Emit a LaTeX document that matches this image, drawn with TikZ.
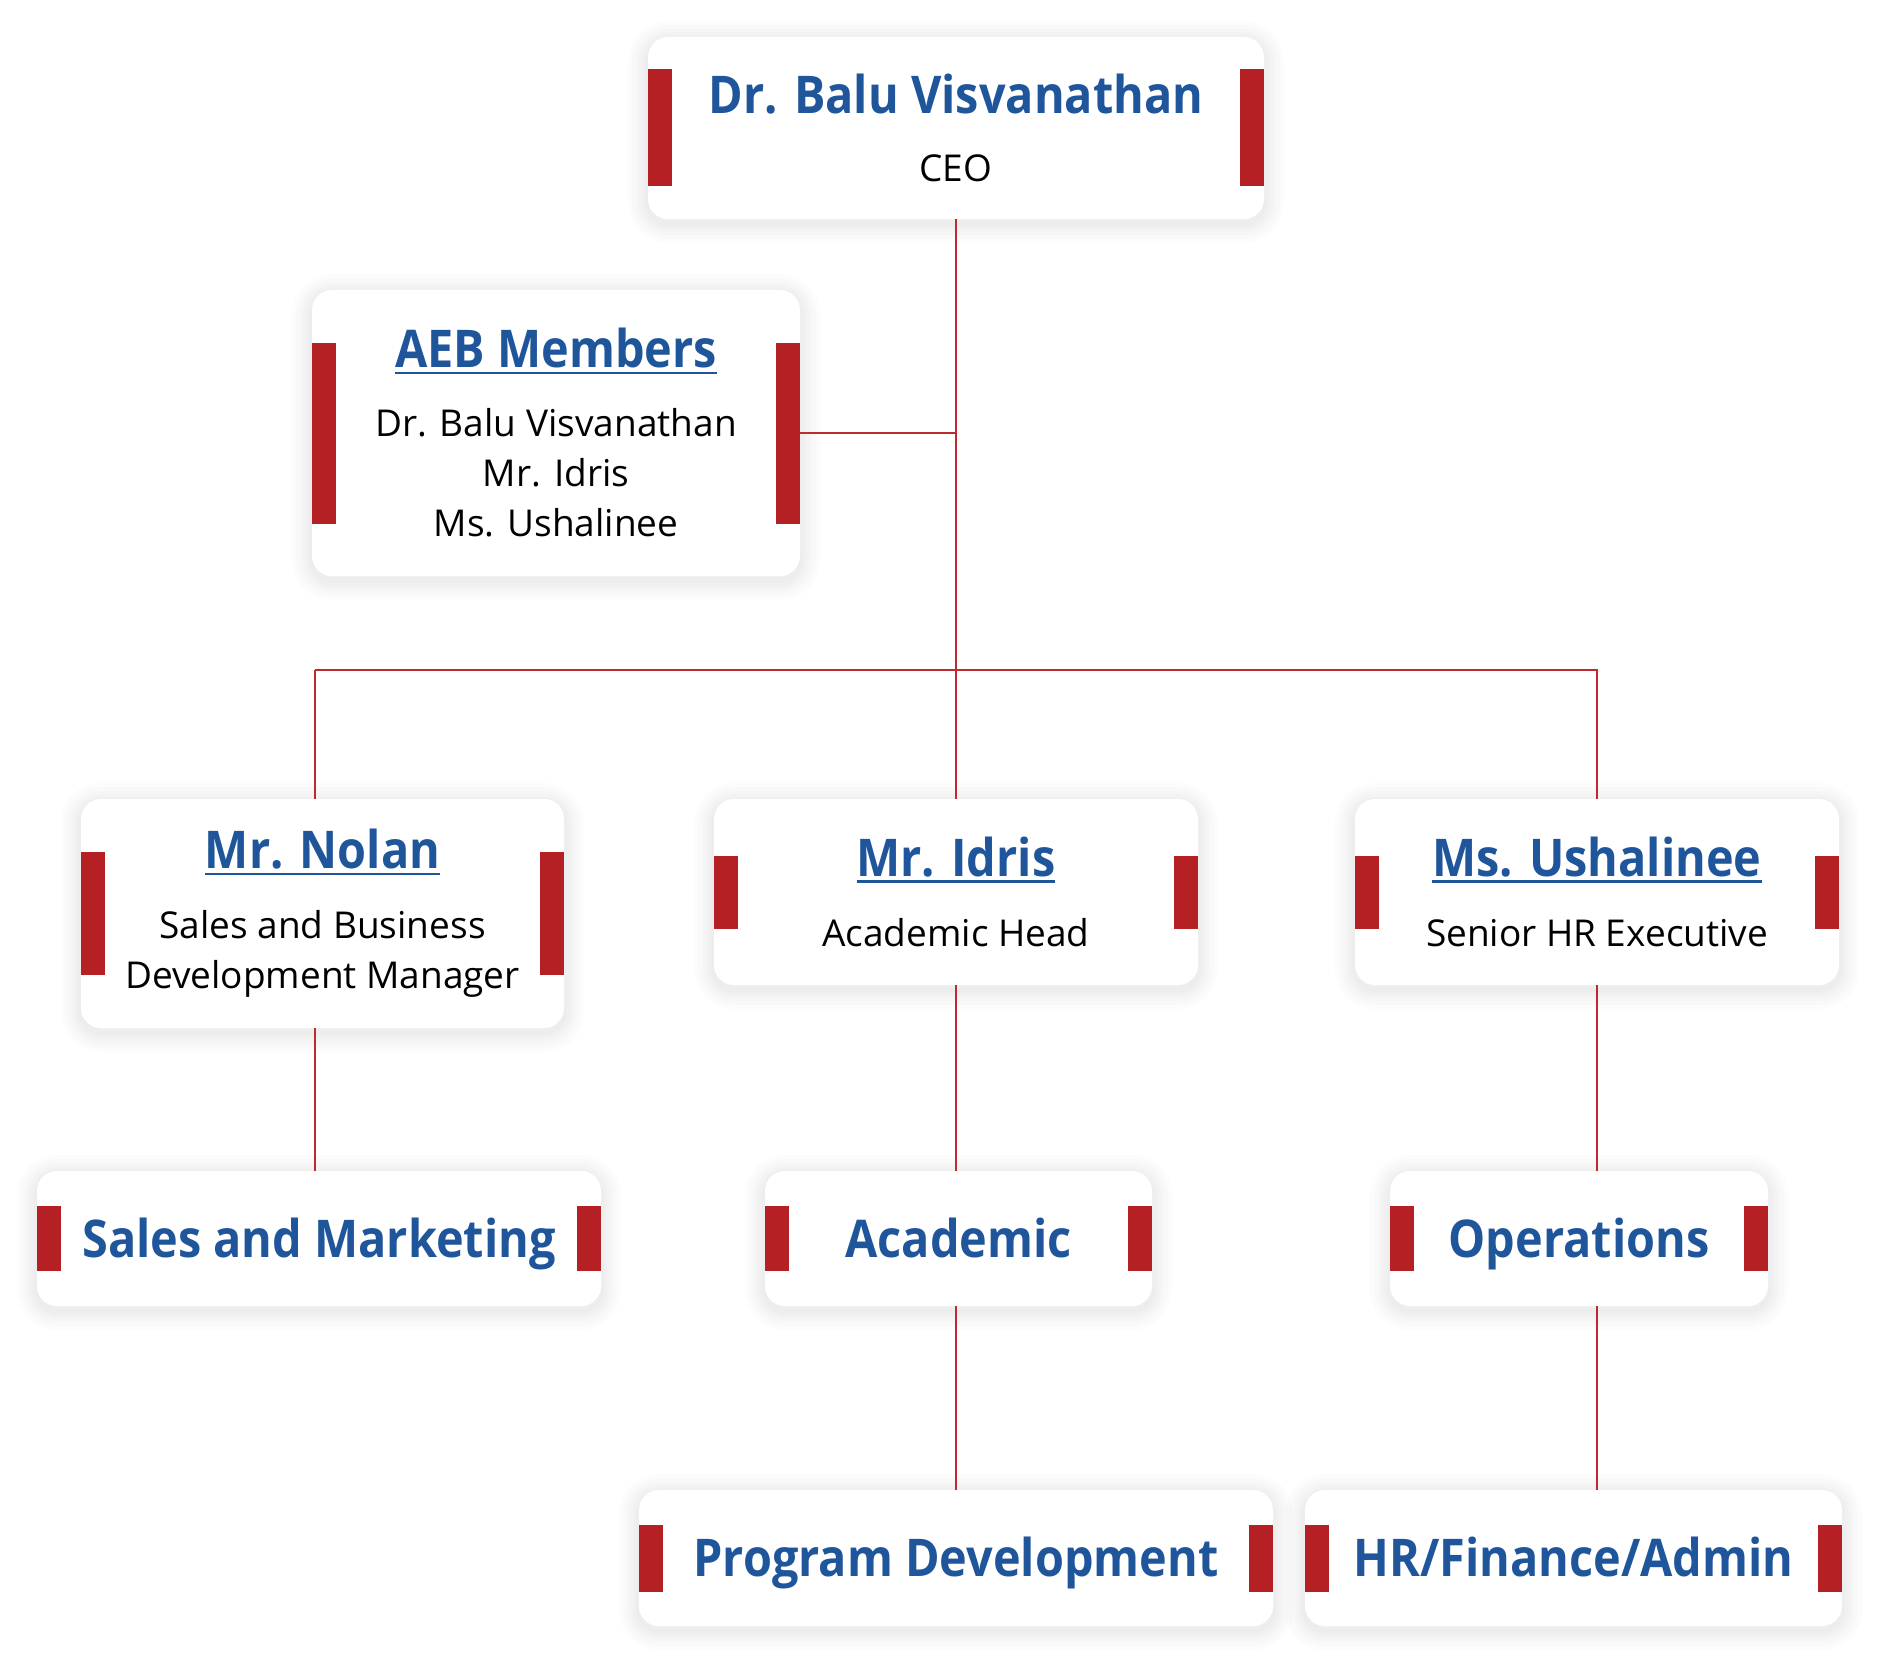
\documentclass[tikz,border=0pt]{standalone}
\usepackage{fontspec}
\setmainfont{Open Sans}
\newfontfamily\headfont[FakeStretch=0.9]{Open Sans}
\usetikzlibrary{positioning}
\definecolor{titleblue}{HTML}{1F559B}
\definecolor{barred}{HTML}{B52025}
\definecolor{linkred}{HTML}{BD2A2F}
\newcommand{\head}[1]{{\headfont\bfseries\fontsize{26}{30}\selectfont\color{titleblue}#1}}
\newcommand{\uhead}[1]{{\headfont\bfseries\fontsize{26}{30}\selectfont\color{titleblue}%
  \setbox0\hbox{#1}\rlap{\rule[-3pt]{\wd0}{1.1pt}}\box0}}

\tikzset{
  glow/.style={preaction={draw=black, opacity=0.012, line width=#1, transform canvas={yshift=-2pt}}},
  unit/.style={fill=white, rounded corners=10pt, inner sep=0pt, align=center,
    font=\fontsize{18.5}{25}\selectfont,
    glow=20pt, glow=16pt, glow=12pt, glow=9pt, glow=6pt, glow=3pt,
    path picture={
      \fill[barred, sharp corners] (path picture bounding box.west) ++(0pt,-#1) rectangle ++(12pt,2*#1);
      \fill[barred, sharp corners] (path picture bounding box.east) ++(0pt,-#1) rectangle ++(-12pt,2*#1);
    }},
  dept/.style={unit=#1, text height=18.5pt, text depth=0pt},
  link/.style={draw=linkred, line width=1pt},
}

\begin{document}
\begin{tikzpicture}[x=0.5pt, y=-0.5pt]
    \useasboundingbox[fill=white] (0,0) rectangle (1879,1664);

    % top
    \node[unit=29.25pt, minimum width=308pt, minimum height=91pt] (ceo) at (956,128)
        {\head{Dr. Balu Visvanathan}\\[9pt] CEO};
    \node[unit=45.25pt, minimum width=244pt, minimum height=143pt] (aeb) at (556,433)
        {\uhead{AEB Members}\\[9.5pt] Dr. Balu Visvanathan\\ Mr. Idris\\ Ms. Ushalinee};

    % heads
    \node[unit=30.75pt, minimum width=241.5pt, minimum height=114.5pt] (nolan) at (322.5,913.5)
        {\uhead{Mr. Nolan}\\[10pt] Sales and Business\\ Development Manager};
    \node[unit=18.25pt, minimum width=242pt, minimum height=93pt] (idris) at (956,892)
        {\uhead{Mr. Idris}\\[10pt] Academic Head};
    \node[unit=18.25pt, minimum width=242pt, minimum height=93pt] (ushalinee) at (1597,892)
        {\uhead{Ms. Ushalinee}\\[10pt] Senior HR Executive};

    % departments
    \node[dept=16.25pt, minimum width=282pt, minimum height=67.5pt] (sales) at (319,1238.5)
        {\head{Sales and Marketing}};
    \node[dept=16.25pt, minimum width=193.5pt, minimum height=67.5pt] (academic) at (958.5,1238.5)
        {\head{Academic}};
    \node[dept=16.25pt, minimum width=189pt, minimum height=67.5pt] (operations) at (1579,1238.5)
        {\head{Operations}};
    \node[dept=16.75pt, minimum width=317pt, minimum height=68pt] (progdev) at (956,1558)
        {\head{Program Development}};
    \node[dept=16.75pt, minimum width=268.5pt, minimum height=68pt] (hr) at (1573.5,1558)
        {\head{HR/Finance/Admin}};

    % connectors
    \coordinate (bus) at (315,670);
    \draw[link] (ceo.south) -- (idris.north);
    \draw[link] (aeb.east) -- (aeb.east -| ceo.south);
    \draw[link] (bus) -- (bus -| ushalinee.north) -- (ushalinee.north);
    \draw[link] (bus) -- (bus |- nolan.north);
    \draw[link] (bus |- nolan.south) -- (bus |- sales.north);
    \draw[link] (idris.south) -- (idris.south |- academic.north);
    \draw[link] (idris.south |- academic.south) -- (progdev.north);
    \draw[link] (ushalinee.south) -- (ushalinee.south |- operations.north);
    \draw[link] (ushalinee.south |- operations.south) -- (ushalinee.south |- hr.north);
\end{tikzpicture}
\end{document}
